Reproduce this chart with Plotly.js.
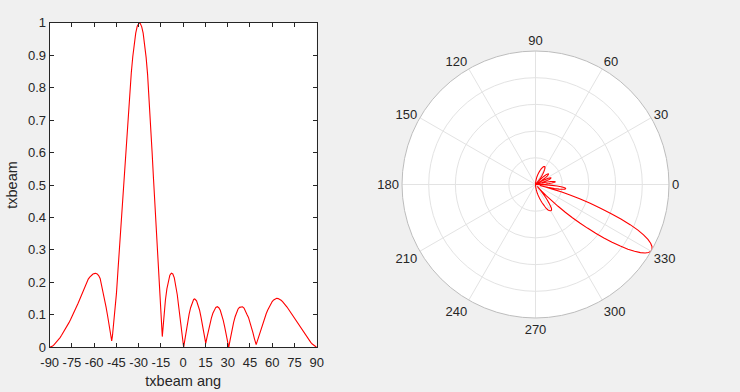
<!DOCTYPE html>
<html>
<head>
<meta charset="utf-8">
<script src="https://cdn.plot.ly/plotly-3.0.1.min.js"></script>
<style>
html,body{margin:0;padding:0;background:#f0f0f0;}
#chart{width:740px;height:392px;}
</style>
</head>
<body>
<div id="chart"></div>
<script>
// Beam angle (degrees) and normalized beam amplitude
const angDeg = [
  -90,-89,-88,-87,-86,-85,-84,-83,-82,-81,-80,-79,-78,-77,-76,-75,-74,-73,-72,-71,
  -70,-69,-68,-67,-66,-65,-64,-63,-62,-61,-60,-59,-58,-57,-56,-55,-54,-53,-52,-51,
  -50,-49,-48.6,-48.2,-47.7,-47,-46,-45,-44,-43,-42,-41,-40,-39,-38,-37,-36,-35,-34,-33,
  -32,-31,-30,-29.6,-29,-28,-27,-26,-25,-24,-23,-22,-21,-20,-19,-18,-17,-16,-15,-14.5,
  -14.1,-13.5,-13,-12,-11,-10,-9,-8,-7,-6,-5,-4,-3,-2,-1,0,0.3,1,2,3,
  4,5,6,7,7.5,8,9,10,11,12,13,14,15.2,16,17,18,19,20,21,22,
  23,24,25,26,27,28,29,30,30.7,31.5,32,33,34,35,36,37,38,39,40,41,
  42,43,44,45,46,47,48,49.2,50,51,52,53,54,55,56,57,58,59,60,61,
  62,63,64,65,66,67,68,69,70,71,72,73,74,75,76,77,78,79,80,81,
  82,83,84,85,86,87,88,89,90];
const beamVal = [
  0.000,0.001,0.004,0.008,0.013,0.018,0.024,0.030,0.037,0.044,0.051,0.059,0.067,0.076,0.085,0.094,0.104,0.114,0.124,0.134,
  0.145,0.156,0.167,0.179,0.191,0.201,0.210,0.216,0.221,0.225,0.227,0.228,0.226,0.221,0.212,0.192,0.170,0.148,0.124,0.098,
  0.072,0.045,0.032,0.020,0.035,0.068,0.118,0.166,0.235,0.305,0.372,0.440,0.508,0.580,0.650,0.718,0.785,0.845,0.895,0.937,
  0.968,0.989,0.999,1.000,0.998,0.988,0.968,0.937,0.893,0.840,0.770,0.690,0.604,0.518,0.433,0.348,0.270,0.205,0.120,0.070,
  0.033,0.065,0.095,0.145,0.180,0.205,0.222,0.228,0.226,0.214,0.192,0.162,0.124,0.083,0.042,0.010,0.000,0.020,0.050,0.078,
  0.102,0.122,0.138,0.147,0.149,0.148,0.143,0.132,0.115,0.093,0.068,0.040,0.012,0.030,0.052,0.072,0.090,0.105,0.116,0.123,
  0.125,0.122,0.114,0.101,0.083,0.062,0.038,0.013,0.000,0.020,0.033,0.056,0.077,0.094,0.108,0.118,0.123,0.125,0.125,0.121,
  0.113,0.101,0.092,0.078,0.062,0.045,0.027,0.008,0.020,0.035,0.050,0.064,0.079,0.092,0.104,0.115,0.125,0.134,0.141,0.146,
  0.150,0.151,0.150,0.148,0.145,0.141,0.136,0.130,0.124,0.117,0.110,0.103,0.096,0.089,0.082,0.075,0.068,0.061,0.054,0.047,
  0.040,0.034,0.027,0.021,0.015,0.010,0.006,0.002,0.000];

const xTickVals = [-90,-75,-60,-45,-30,-15,0,15,30,45,60,75,90];
const xTickText = ['-90','-75','-60','-45','-30','-15','0','15','30','45','60','75','90'];
const yTickVals = [0,0.1,0.2,0.3,0.4,0.5,0.6,0.7,0.8,0.9,1];
const yTickText = ['0','0.1','0.2','0.3','0.4','0.5','0.6','0.7','0.8','0.9','1'];
const polarTickVals = [0,30,60,90,120,150,180,210,240,270,300,330];
const polarTickText = ['0','30','60','90','120','150','180','210','240','270','300','330'];

const W = 740, H = 392;
const txt = '#262626';
const font = {family:'Liberation Sans, Arial, sans-serif', size:13, color:txt};

const traces = [
  {type:'scatter', x:angDeg, y:beamVal, mode:'lines', line:{color:'#ff0000', width:1.1}, xaxis:'x', yaxis:'y', hoverinfo:'skip'},
  {type:'scatterpolar', theta:angDeg, r:beamVal, mode:'lines', line:{color:'#ff0000', width:1.1}, subplot:'polar', hoverinfo:'skip'}
];

const layout = {
  width:W, height:H,
  margin:{l:0,r:0,t:0,b:0},
  paper_bgcolor:'#f0f0f0',
  plot_bgcolor:'#ffffff',
  font:font,
  showlegend:false,
  xaxis:{
    domain:[49.7/W, 316.7/W], range:[-90,90], tickmode:'array', tickvals:xTickVals, ticktext:xTickText,
    ticks:'inside', ticklen:4, tickcolor:txt, showline:true, linecolor:txt, linewidth:1, mirror:'ticks',
    ticklabelstandoff:3,
    showgrid:false, zeroline:false, title:{text:'txbeam ang', font:{size:14.5, color:txt}, standoff:6}
  },
  yaxis:{
    domain:[1-347.3/H, 1-22.7/H], range:[0,1], tickmode:'array', tickvals:yTickVals, ticktext:yTickText,
    ticks:'inside', ticklen:4, tickcolor:txt, showline:true, linecolor:txt, linewidth:1, mirror:'ticks',
    showgrid:false, zeroline:false, title:{text:'txbeam', font:{size:14.5, color:txt}, standoff:6}
  },
  polar:{
    domain:{x:[402/W, 669/W], y:[1-318/H, 1-51/H]},
    bgcolor:'#ffffff',
    radialaxis:{range:[0,1], dtick:0.2, showticklabels:false, ticks:'', showline:false, gridcolor:'#e3e3e3', gridwidth:1},
    angularaxis:{direction:'counterclockwise', rotation:0, tickmode:'array', tickvals:polarTickVals, ticktext:polarTickText,
      ticks:'', showline:true, linecolor:'#bdbdbd', linewidth:1, gridcolor:'#e3e3e3', gridwidth:1, tickfont:{size:13, color:txt}}
  }
};

Plotly.newPlot('chart', traces, layout, {displayModeBar:false, staticPlot:true});
</script>
</body>
</html>
